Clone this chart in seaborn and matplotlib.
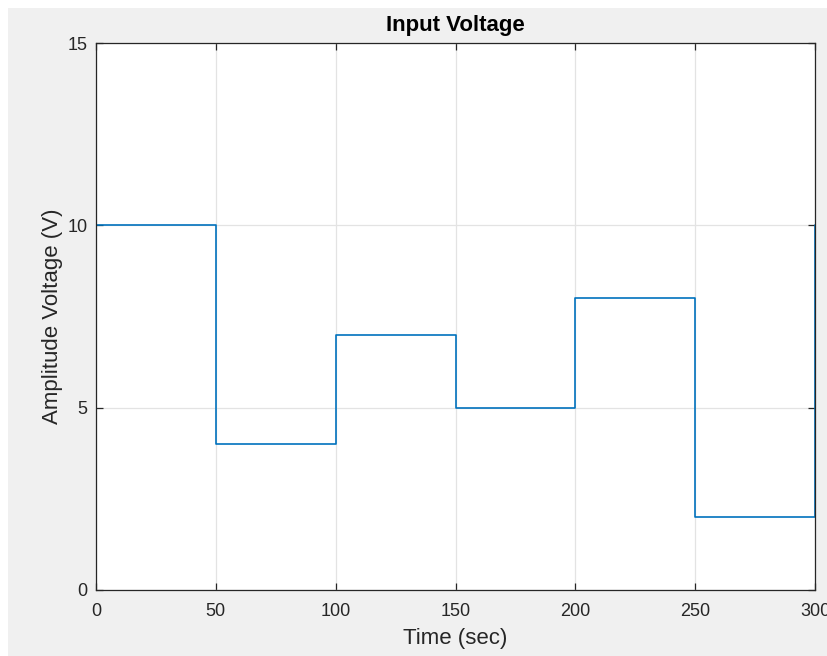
import matplotlib
matplotlib.use("Agg")
import matplotlib.pyplot as plt
import seaborn as sns
import pandas as pd
from matplotlib.patches import Rectangle

time_sec = [0, 50, 100, 150, 200, 250, 300]
voltage = [10, 4, 7, 5, 8, 2, 10]
x_ticks = [0, 50, 100, 150, 200, 250, 300]
y_ticks = [0, 5, 10, 15]

sns.set_theme(style="white")
plt.rcParams['font.family'] = ['Liberation Sans', 'DejaVu Sans']

df = pd.DataFrame({"Time": time_sec, "Voltage": voltage})

fig = plt.figure(figsize=(8.28, 6.56), dpi=100, facecolor="white")
fig.patches.append(Rectangle((8/828, 0), 1, 1 - 8/656, transform=fig.transFigure,
                             facecolor="#f0f0f0", edgecolor="none", zorder=-10))
ax = fig.add_axes([96/828, 1 - 590/656, (815 - 96)/828, (590 - 43)/656])
ax.set_facecolor("white")

sns.lineplot(data=df, x="Time", y="Voltage", drawstyle="steps-post",
             color="#0072BD", linewidth=1.2, ax=ax)

ax.set_xlim(0, 300)
ax.set_ylim(0, 15)
ax.set_xticks(x_ticks)
ax.set_yticks(y_ticks)
ax.grid(True, color="#e3e3e3", linewidth=0.9)
ax.set_axisbelow(True)
for s in ax.spines.values():
    s.set_visible(True)
    s.set_color("#262626")
    s.set_linewidth(0.9)
ax.tick_params(direction="in", length=5, width=0.9, color="#262626",
               labelcolor="#262626", labelsize=13, top=True, right=True,
               bottom=True, left=True)
ax.tick_params(axis="x", pad=9)
ax.tick_params(axis="y", pad=6)
for lab in ax.get_xticklabels():
    lab.set_clip_on(False)
ax.set_xlabel("Time (sec)", fontsize=16, color="#262626", labelpad=6)
ax.set_ylabel("Amplitude Voltage (V)", fontsize=16, color="#262626", labelpad=3)
ax.set_title("Input Voltage", fontsize=16, fontweight="bold", color="#000000", pad=9)

fig.savefig("out.png", dpi=100, facecolor=fig.get_facecolor())
